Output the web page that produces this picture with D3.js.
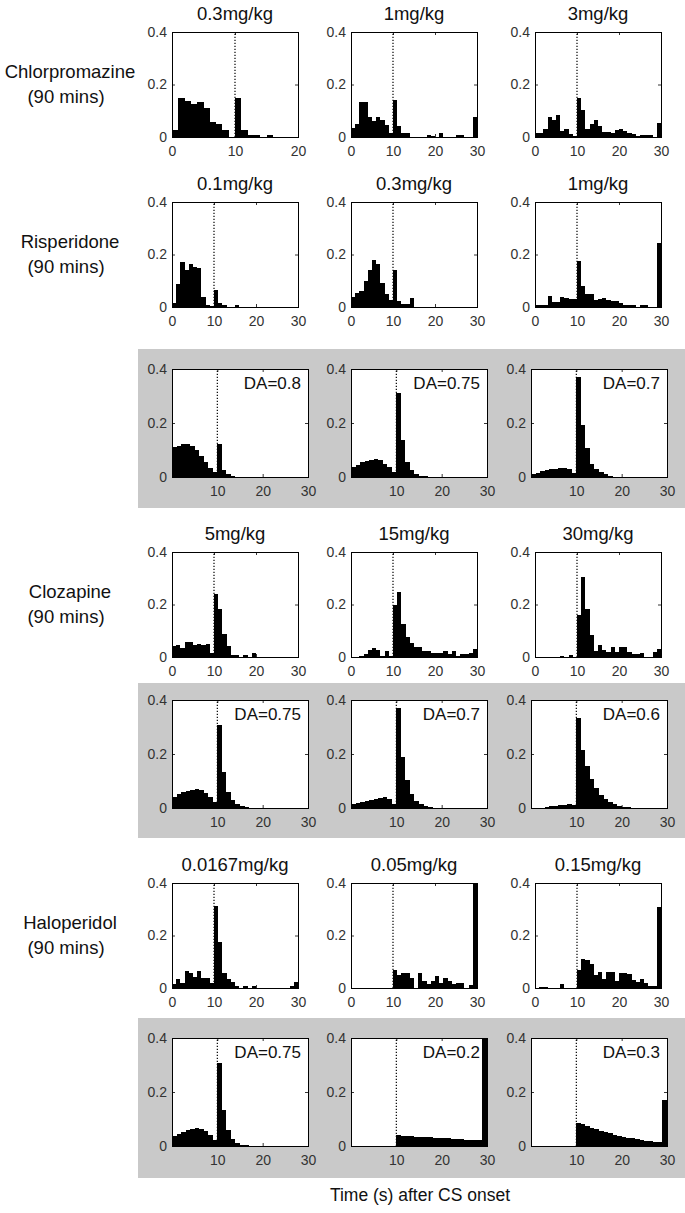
<!DOCTYPE html>
<html>
<head>
<meta charset="utf-8">
<script src="https://cdn.jsdelivr.net/npm/d3@7"></script>
<style>
  html, body { margin: 0; padding: 0; background: #fff; }
  svg { display: block; }
</style>
</head>
<body>
<div id="chart"></div>
<script>
// Response-time histograms: drug data rows and model (DA) rows

// ---- data (probability per 1 s bin, bins start at 0) ----
const drugNames = ["Chlorpromazine", "Risperidone", "Clozapine", "Haloperidol"];
const drugDoses = [
  ["0.3mg/kg", "1mg/kg", "3mg/kg"],
  ["0.1mg/kg", "0.3mg/kg", "1mg/kg"],
  ["5mg/kg", "15mg/kg", "30mg/kg"],
  ["0.0167mg/kg", "0.05mg/kg", "0.15mg/kg"]
];
const daLabels = [
  ["DA=0.8", "DA=0.75", "DA=0.7"],
  ["DA=0.75", "DA=0.7", "DA=0.6"],
  ["DA=0.75", "DA=0.2", "DA=0.3"]
];
const firstPanelXMax = [20, 30, 30];
const xTicksDrug = [0, 10, 20, 30];
const xTicksModel = [10, 20, 30];
const yTicks = [0, 0.2, 0.4];

const chlor03 = [0.027,0.148,0.137,0.127,0.133,0.111,0.058,0.05,0.025,0,0.148,0.025,0.008,0.008,0,0.006,0,0,0,0];
const chlor1 = [0.035,0.048,0.133,0.133,0.077,0.06,0.077,0.065,0.044,0.016,0.14,0.042,0.016,0.016,0,0,0,0,0.008,0.004,0,0.016,0,0,0,0.008,0.008,0,0,0.075];
const chlor3 = [0.017,0.017,0.03,0.077,0.065,0.083,0.023,0.03,0.01,0.004,0.148,0.102,0.03,0.051,0.065,0.042,0.02,0.02,0.017,0.026,0.03,0.023,0.017,0.01,0.004,0.006,0.006,0.006,0,0.052];

const risp01 = [0.015,0.086,0.171,0.14,0.165,0.152,0.15,0.04,0.006,0.003,0.066,0.015,0.006,0,0,0.006,0,0,0,0,0,0,0,0,0,0,0,0,0,0];
const risp03 = [0.04,0.053,0.061,0.1,0.14,0.18,0.163,0.091,0.051,0.025,0.14,0.023,0.01,0.01,0.034,0,0,0,0,0,0,0,0,0,0,0,0,0,0,0];
const risp1 = [0.006,0.006,0.006,0.042,0.019,0.019,0.038,0.033,0.032,0.029,0.175,0.08,0.05,0.05,0.027,0.029,0.033,0.027,0.023,0.023,0.016,0.006,0.006,0.006,0,0.008,0.008,0,0,0.245];

const cloz5 = [0.041,0.045,0.035,0.058,0.058,0.047,0.051,0.047,0.051,0.015,0.24,0.183,0.089,0.041,0.006,0.006,0,0.006,0,0.015,0,0,0,0,0,0,0,0,0,0];
const cloz15 = [0,0,0.004,0.01,0.026,0.035,0.026,0.004,0.022,0.004,0.2,0.247,0.125,0.077,0.054,0.038,0.038,0.023,0.023,0.015,0.015,0.015,0.023,0.01,0.023,0.004,0.01,0.01,0.015,0.032];
const cloz30 = [0,0,0,0,0,0,0.004,0,0.006,0,0.161,0.306,0.184,0.084,0.022,0.045,0.026,0.019,0.039,0.019,0.039,0.039,0.019,0.01,0.01,0.015,0,0,0.019,0.032];

const halo00167 = [0.015,0.034,0.018,0.063,0.059,0.043,0.063,0.04,0.04,0.019,0.312,0.177,0.059,0.034,0.021,0.009,0,0.009,0,0.009,0,0,0,0,0,0,0,0,0.009,0.024];
const halo005 = [0,0,0,0,0,0,0,0,0,0,0.068,0.049,0.056,0.059,0.037,0,0.059,0.028,0.015,0.028,0.047,0.018,0.037,0.028,0.015,0.019,0.019,0,0.011,0.4];
const halo015 = [0,0.005,0.005,0,0,0,0.016,0,0,0,0.07,0.11,0.108,0.09,0.05,0.06,0.035,0.06,0.06,0.025,0.058,0.058,0.052,0.032,0.024,0.035,0.02,0.006,0.006,0.31];

const modelA08 = [0.111,0.116,0.123,0.122,0.116,0.101,0.079,0.054,0.033,0.017,0.123,0.027,0.012,0.002,0,0,0,0,0,0,0,0,0,0,0,0,0,0,0,0];
const modelA075 = [0.037,0.046,0.054,0.06,0.064,0.067,0.062,0.049,0.036,0.017,0.311,0.136,0.056,0.027,0.012,0.005,0.002,0,0,0,0,0,0,0,0,0,0,0,0,0];
const modelA07 = [0.012,0.016,0.021,0.025,0.029,0.031,0.034,0.035,0.031,0.015,0.37,0.193,0.106,0.05,0.031,0.019,0.01,0.005,0,0,0,0,0,0,0,0,0,0,0,0];

const modelB075 = [0.042,0.052,0.058,0.063,0.067,0.069,0.067,0.057,0.042,0.024,0.307,0.133,0.06,0.03,0.015,0.006,0.004,0,0,0,0,0,0,0,0,0,0,0,0,0];
const modelB07 = [0.015,0.018,0.023,0.027,0.03,0.034,0.038,0.039,0.034,0.016,0.37,0.19,0.103,0.052,0.027,0.015,0.006,0.004,0,0,0,0,0,0,0,0,0,0,0,0];
const modelB06 = [0,0,0,0.002,0.006,0.007,0.01,0.012,0.013,0.01,0.333,0.215,0.154,0.107,0.073,0.049,0.032,0.022,0.013,0.007,0.004,0.002,0,0,0,0,0,0,0,0];

const modelC075 = [0.036,0.046,0.052,0.058,0.062,0.065,0.062,0.055,0.04,0.024,0.309,0.135,0.061,0.027,0.012,0.005,0.002,0,0,0,0,0,0,0,0,0,0,0,0,0];
const modelC02 = [0,0,0,0,0,0,0,0,0,0,0.04,0.038,0.037,0.036,0.035,0.034,0.033,0.032,0.031,0.03,0.029,0.028,0.027,0.026,0.025,0.024,0.023,0.022,0.021,0.4];
const modelC03 = [0,0,0,0,0,0,0,0,0,0,0.086,0.08,0.074,0.068,0.062,0.056,0.051,0.047,0.042,0.038,0.035,0.031,0.028,0.025,0.023,0.02,0.018,0.016,0.014,0.17];

const drugSeries = [
  [chlor03, chlor1, chlor3],
  [risp01, risp03, risp1],
  [cloz5, cloz15, cloz30],
  [halo00167, halo005, halo015]
];
const modelSeries = [
  [modelA08, modelA075, modelA07],
  [modelB075, modelB07, modelB06],
  [modelC075, modelC02, modelC03]
];

// ---- layout ----
const W = 685, H = 1213;
const font = "'Liberation Sans', Arial, Helvetica, sans-serif";

const rows = [
  { kind: "drug", idx: 0, top: 32 },
  { kind: "drug", idx: 1, top: 202 },
  { kind: "model", idx: 0, top: 369, band: [349, 508] },
  { kind: "drug", idx: 2, top: 552 },
  { kind: "model", idx: 1, top: 700, band: [683, 838] },
  { kind: "drug", idx: 3, top: 883 },
  { kind: "model", idx: 2, top: 1038, band: [1018, 1178] }
];
const drugCols = [172, 351, 535], drugW = 126, drugH = 105;
const modelCols = [172, 351, 531], modelW = 136, modelH = 108;
const bandLeft = 138;

const svg = d3.select("#chart").append("svg")
  .attr("width", W).attr("height", H)
  .attr("viewBox", [0, 0, W, H])
  .style("font-family", font);

svg.append("rect").attr("width", W).attr("height", H).attr("fill", "#fff");

function drawPanel(g, values, w, h, xMax, xTicks) {
  const x = d3.scaleLinear().domain([0, xMax]).range([0, w]);
  const y = d3.scaleLinear().domain([0, 0.4]).range([h, 0]);

  g.append("rect").attr("width", w).attr("height", h).attr("fill", "#fff");

  g.append("g")
    .attr("shape-rendering", "crispEdges")
    .selectAll("rect")
    .data(values.map((v, i) => ({ i, v })).filter((d) => d.v > 0 && d.i < xMax))
    .join("rect")
    .attr("x", (d) => x(d.i))
    .attr("width", (d) => x(d.i + 1) - x(d.i))
    .attr("y", (d) => y(Math.min(d.v, 0.4)))
    .attr("height", (d) => h - y(Math.min(d.v, 0.4)))
    .attr("fill", "#000");

  // CS onset marker
  g.append("line")
    .attr("x1", x(10)).attr("x2", x(10))
    .attr("y1", y(0)).attr("y2", y(0.4))
    .attr("stroke", "#000").attr("stroke-width", 1.2)
    .attr("stroke-dasharray", "1.2,1.8");

  const fmtY = (d) => (d === 0 ? "0" : d3.format(".1f")(d));

  const axes = [
    g.append("g").attr("transform", `translate(0,${h})`)
      .call(d3.axisBottom(x).tickValues(xTicks).tickSizeInner(-3).tickSizeOuter(0).tickPadding(9)),
    g.append("g")
      .call(d3.axisTop(x).tickValues(xTicks).tickSizeInner(-3).tickSizeOuter(0).tickFormat("")),
    g.append("g")
      .call(d3.axisLeft(y).tickValues(yTicks).tickSizeInner(-3).tickSizeOuter(0).tickPadding(5).tickFormat(fmtY)),
    g.append("g").attr("transform", `translate(${w},0)`)
      .call(d3.axisRight(y).tickValues(yTicks).tickSizeInner(-3).tickSizeOuter(0).tickFormat(""))
  ];
  axes.forEach((a) => {
    a.select(".domain").remove();
    a.attr("font-family", font).attr("font-size", 14);
    a.selectAll("text").attr("fill", "#333");
    a.selectAll("line").attr("stroke-width", 0.8);
  });

  g.append("rect")
    .attr("width", w).attr("height", h)
    .attr("fill", "none").attr("stroke", "#000").attr("stroke-width", 1)
    .attr("shape-rendering", "crispEdges");
}

rows.forEach((row) => {
  if (row.kind === "model") {
    svg.append("rect")
      .attr("x", bandLeft).attr("y", row.band[0])
      .attr("width", W - bandLeft).attr("height", row.band[1] - row.band[0])
      .attr("fill", "#c9c9c9");
  }
});

rows.forEach((row) => {
  const isDrug = row.kind === "drug";
  const cols = isDrug ? drugCols : modelCols;
  const w = isDrug ? drugW : modelW;
  const h = isDrug ? drugH : modelH;
  const series = isDrug ? drugSeries[row.idx] : modelSeries[row.idx];

  cols.forEach((left, c) => {
    const g = svg.append("g").attr("transform", `translate(${left},${row.top})`);
    const xMax = isDrug && row.idx === 0 ? firstPanelXMax[c] : 30;
    const ticks = isDrug ? xTicksDrug.filter((t) => t <= xMax) : xTicksModel;
    drawPanel(g, series[c], w, h, xMax, ticks);

    if (isDrug) {
      g.append("text")
        .attr("x", w / 2).attr("y", -12)
        .attr("text-anchor", "middle")
        .attr("font-size", 18.5)
        .attr("fill", "#111")
        .text(drugDoses[row.idx][c]);
    } else {
      g.append("text")
        .attr("x", w - 7).attr("y", 20)
        .attr("text-anchor", "end")
        .attr("font-size", 17)
        .attr("fill", "#111")
        .text(daLabels[row.idx][c]);
    }
  });

  if (isDrug) {
    const cy = row.top + h / 2;
    const label = svg.append("text")
      .attr("text-anchor", "middle")
      .attr("font-size", 18.5)
      .attr("fill", "#111");
    label.append("tspan").attr("x", 70).attr("y", cy - 7).text(drugNames[row.idx]);
    label.append("tspan").attr("x", 66).attr("y", cy + 18).text("(90 mins)");
  }
});

svg.append("text")
  .attr("x", 420).attr("y", 1201)
  .attr("text-anchor", "middle")
  .attr("font-size", 17.5)
  .attr("fill", "#111")
  .text("Time (s) after CS onset");
</script>
</body>
</html>
